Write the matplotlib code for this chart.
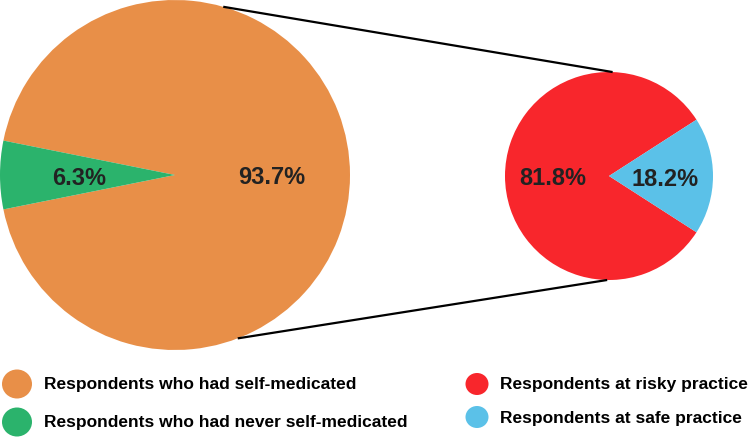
"""
Self-medication prevalence: pie with a zoomed sub-pie on the right.
Saves out.png.
"""
import numpy as np
import matplotlib
matplotlib.use("Agg")
import matplotlib.pyplot as plt
from matplotlib import font_manager
from matplotlib.patches import Ellipse

# data
main_labels = ["Respondents who had self-medicated",
               "Respondents who had never self-medicated"]
main_values = [93.7, 6.3]
main_colors = ["#E88F48", "#2BB36C"]

sub_labels = ["Respondents at risky practice", "Respondents at safe practice"]
sub_values = [81.8, 18.2]
sub_colors = ["#F8262C", "#5BC1E8"]

W, H = 748, 443
fig = plt.figure(figsize=(W / 100, H / 100), dpi=100)
ax = fig.add_axes([0, 0, 1, 1])

installed = {f.name for f in font_manager.fontManager.ttflist}
if "Liberation Sans Narrow" in installed:
    leg_family, leg_size = "Liberation Sans Narrow", 15.5
else:
    leg_family, leg_size = "Liberation Sans", 12.5

big_c, big_r = (175, 175), 175
small_c, small_r = (609, 176), 104

txt = dict(fontsize=17, fontweight="bold", color="#222222",
           family="Liberation Sans")

_, _, big_pct = ax.pie(main_values, colors=main_colors, center=big_c,
                       radius=big_r, startangle=180 + main_values[1] * 1.8,
                       autopct="%.1f%%", pctdistance=0.55, textprops=txt,
                       wedgeprops=dict(linewidth=0))
_, _, small_pct = ax.pie(sub_values, colors=sub_colors, center=small_c,
                         radius=small_r, startangle=sub_values[1] * 1.8,
                         autopct="%.1f%%", pctdistance=0.54, textprops=txt,
                         wedgeprops=dict(linewidth=0))
for t in list(big_pct) + list(small_pct):
    x, y = t.get_position()
    t.set_position((x, y + 3))

ax.set_xlim(0, W)
ax.set_ylim(H, 0)
ax.set_aspect("equal")
ax.axis("off")

# connector lines (y axis is inverted, so subtract sin)
def on_circle(c, r, deg):
    a = np.radians(deg)
    return c[0] + r * np.cos(a), c[1] - r * np.sin(a)

for a_big, a_small in [(74, 88), (-69, -91)]:
    p1 = on_circle(big_c, big_r, a_big)
    p2 = on_circle(small_c, small_r, a_small)
    ax.plot([p1[0], p2[0]], [p1[1], p2[1]], color="black", lw=1.6,
            solid_capstyle="butt")

# legend
leg_font = dict(fontsize=leg_size, fontweight="bold", color="black",
                family=leg_family, va="center", ha="left")
for lab, col, y in zip(main_labels, main_colors, [384, 422]):
    ax.add_patch(Ellipse((17, y), 30, 29, color=col, lw=0))
    ax.text(44, y + 1, lab, **leg_font)
for lab, col, y in zip(sub_labels, sub_colors, [384, 417]):
    ax.add_patch(Ellipse((477, y), 23, 22, color=col, lw=0))
    ax.text(500, y + 1, lab, **leg_font)

fig.savefig("out.png", dpi=100)
